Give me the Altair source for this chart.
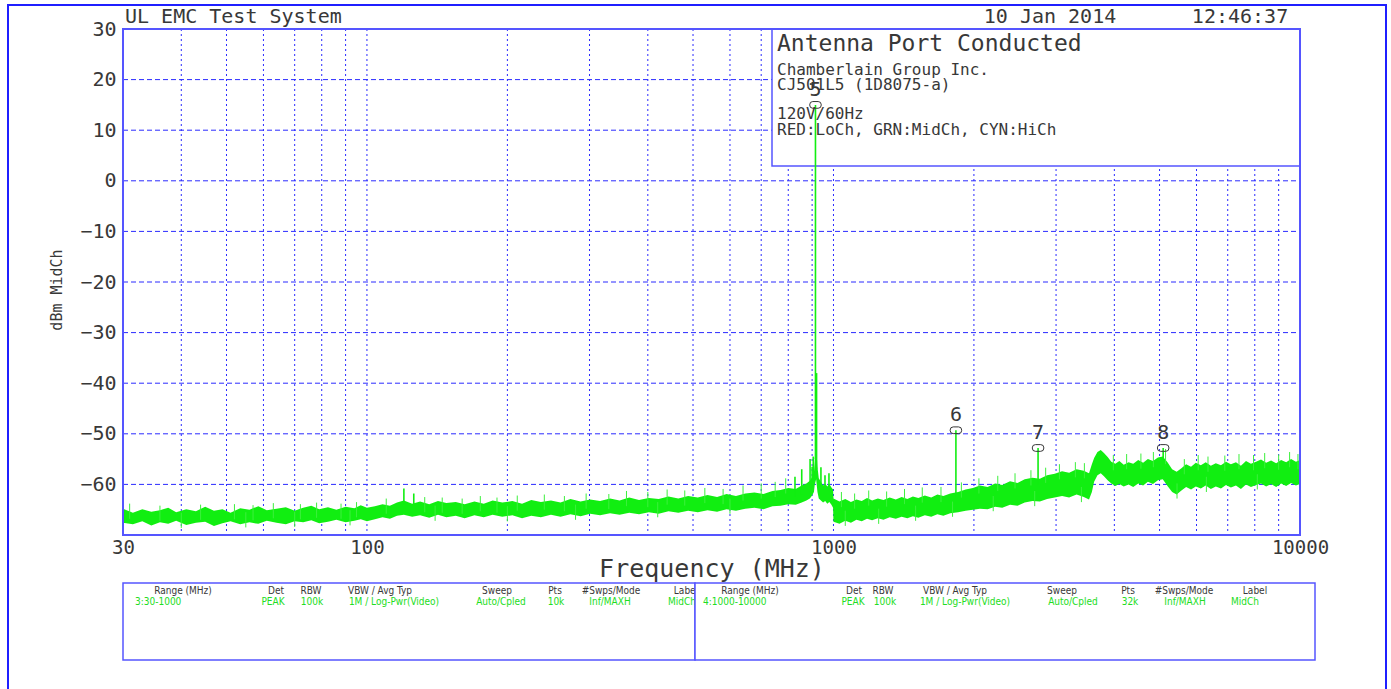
import altair as alt
import pandas as pd

# ---------------------------------------------------------------------------
# Peak-hold trace (MidCh): frequency in MHz with the upper and lower edge of
# the noise band in dBm, range 3 (30-1000 MHz) followed by range 4 (1-10 GHz)
# ---------------------------------------------------------------------------
FREQ = [
    30, 31.5, 33, 34.5, 36, 37.5, 39, 41, 43, 45, 47, 49, 51, 53.5, 56,
    58.5, 61, 64, 67, 70, 73, 76, 79, 82.5, 86, 90, 94, 97, 100,
    104, 108, 112, 116, 120, 125, 130, 136, 142, 148, 155, 162, 170, 178, 186,
    195, 205, 215, 225, 236, 248, 260, 273, 287, 301, 316, 332, 348, 365, 383,
    402, 422, 443, 465, 488, 512, 537, 563, 590, 618, 647, 677, 708, 740, 770,
    800, 830, 855, 875, 890, 900, 908,
    912, 918, 924, 930, 940, 950, 960, 970, 980, 990, 998,
    1000, 1030, 1060, 1090, 1120, 1150, 1180, 1210, 1245, 1280, 1320, 1360, 1400,
    1440, 1480, 1520, 1570, 1620, 1670, 1720, 1780, 1850, 1920, 1990, 2060,
    2140, 2220, 2300, 2390, 2480, 2570, 2670, 2770, 2870, 2980, 3090, 3200,
    3320, 3440, 3530, 3580, 3620, 3680, 3740, 3800, 3870, 3940, 4020, 4100,
    4190, 4290, 4390, 4500, 4610, 4720, 4840, 4960, 5080, 5200, 5320, 5440,
    5570, 5700, 5840, 5980, 6130, 6280, 6440, 6600, 6770, 6940, 7110, 7290,
    7470, 7660, 7850, 8050, 8250, 8460, 8670, 8890, 9110, 9340, 9570, 9800, 10000,
]
UPPER = [
    -64.8, -65.6, -64.9, -65.4, -65.1, -64.6, -65.5, -64.9, -65.3, -64.4,
    -65.2, -64.9, -65.6, -64.7, -65.0, -64.3, -65.1, -64.8, -64.5, -65.2,
    -64.6, -64.2, -64.9, -64.5, -65.0, -64.4, -64.7, -64.1, -64.6,
    -64.3, -63.9, -64.2, -63.6, -63.2, -63.8, -63.4, -63.9, -63.3, -63.7,
    -63.5, -63.9, -63.4, -63.8, -63.2, -63.6, -63.3, -63.8, -63.1, -63.5,
    -63.2, -63.6, -62.9, -63.4, -63.0, -63.3, -62.8, -63.2, -62.6, -63.1,
    -62.7, -62.9, -62.4, -62.8, -62.3, -62.6, -62.1, -62.5, -61.9, -62.3,
    -61.8, -61.6, -61.9, -61.3, -61.1, -60.7, -60.9, -60.2, -59.8, -59.3,
    -58.6, -57.8,
    -55.0, -52.0, -56.5, -58.8, -59.5, -60.2, -59.8, -60.4, -59.9, -60.6, -61.0,
    -62.8, -63.4, -62.9, -63.5, -63.0, -63.3, -62.7, -63.2, -62.8, -63.1,
    -62.6, -63.0, -62.5, -62.9, -62.4, -62.7, -62.2, -62.6, -62.0, -62.3,
    -61.8, -61.5, -61.0, -60.7, -60.2, -60.5, -59.8, -60.1, -59.4, -59.7,
    -59.0, -58.7, -58.9, -58.2, -57.9, -57.4, -57.7, -57.0, -57.3, -57.8,
    -56.0, -54.8, -53.6, -53.2, -53.8, -54.6, -55.5, -55.9, -55.4, -56.1,
    -55.6, -55.9, -55.2, -55.7, -55.0, -55.4, -54.7, -54.5, -55.6, -57.0,
    -57.5, -56.8, -56.0, -56.5, -55.7, -56.2, -55.6, -56.3, -55.8, -56.2,
    -55.5, -56.0, -55.6, -56.3, -55.4, -55.9, -55.5, -55.1, -55.7, -55.3,
    -55.8, -55.2, -55.6, -55.0, -55.5, -55.2,
]
LOWER = [
    -67.6, -67.9, -67.3, -68.1, -67.5, -67.8, -67.2, -68.0, -67.6, -67.4,
    -68.2, -67.7, -67.3, -67.9, -67.5, -67.8, -67.2, -67.6, -67.9, -67.3,
    -67.5, -67.1, -67.7, -67.4, -67.0, -67.5, -67.2, -66.9, -67.3,
    -66.9, -66.5, -66.8, -66.2, -66.0, -66.4, -66.1, -66.6, -66.0, -66.5,
    -66.2, -66.7, -66.1, -66.5, -66.0, -66.4, -66.1, -66.7, -66.2, -66.5,
    -66.0, -66.4, -65.9, -66.3, -65.8, -66.1, -65.7, -66.0, -65.6, -65.9,
    -65.5, -65.8, -65.3, -65.6, -65.2, -65.5, -65.1, -65.4, -64.9, -65.2,
    -64.8, -64.6, -64.9, -64.3, -64.2, -63.9, -64.0, -63.6, -63.2, -62.8,
    -62.2, -61.5,
    -60.0, -59.0, -61.5, -62.8, -63.2, -63.6, -63.3, -63.8, -63.5, -64.0, -64.6,
    -67.4, -67.8, -67.2, -67.6, -67.0, -67.3, -66.8, -67.1, -66.7, -67.0,
    -66.5, -66.8, -66.4, -66.7, -66.3, -66.6, -66.1, -66.4, -65.9, -66.2,
    -65.7, -65.5, -65.2, -65.0, -64.8, -64.9, -64.4, -64.6, -64.0, -64.2,
    -63.6, -63.3, -63.4, -62.9, -62.6, -62.3, -62.6, -62.0, -62.5, -63.0,
    -61.5, -59.5, -58.2, -57.8, -58.4, -59.2, -59.8, -60.3, -59.9, -60.4,
    -60.0, -60.5, -59.8, -60.2, -59.5, -59.9, -59.2, -59.0, -60.3, -61.5,
    -62.0, -61.2, -60.5, -61.0, -60.4, -60.8, -60.2, -60.9, -60.4, -60.8,
    -60.1, -60.6, -60.2, -60.9, -60.0, -60.5, -60.1, -59.8, -60.4, -59.9,
    -60.5, -59.8, -60.3, -59.7, -60.2, -59.9,
]

# Short noise peaks poking above the band (MHz, dBm)
FRINGE_UP_FREQ = [31, 36, 44, 52, 57, 63, 72, 78, 88, 95,
                  110, 133, 145, 160, 175, 190, 210, 240, 265, 295, 330, 360,
                  400, 440, 480, 530, 580, 640, 700, 750, 790,
                  1040, 1110, 1190, 1300, 1420, 1550, 1700, 1880, 2050, 2250,
                  2450, 2650, 2850, 3050, 3300, 3450, 3980, 4250, 4560, 4850,
                  5150, 5650, 6050, 6350, 6900, 7400, 7950, 8400, 9000, 9500, 9900]
FRINGE_UP_LEVEL = [-63.8, -64.2, -64.0, -63.9, -64.1, -63.7, -63.9, -63.6, -63.8, -63.5,
                   -62.8, -62.5, -62.6, -62.8, -62.3, -62.6, -62.2, -62.0, -62.3, -61.8, -61.9, -61.3,
                   -61.5, -61.0, -61.2, -60.7, -60.9, -60.2, -59.8, -59.5, -58.8,
                   -61.5, -61.8, -61.2, -61.4, -60.9, -60.6, -60.5, -59.6, -58.8, -58.3,
                   -57.8, -57.2, -56.7, -56.0, -55.6, -55.8, -54.2, -54.0, -53.9, -53.6,
                   -53.0, -55.0, -54.2, -54.5, -54.3, -54.0, -54.2, -53.8, -54.1, -53.6, -54.0]
# ... and dips below it
FRINGE_DN_FREQ = [40, 55, 70, 92, 140, 200, 280, 420, 600,
                  1060, 1250, 1500, 1800, 2200, 2700, 3400, 5450, 6300, 8100]
FRINGE_DN_LEVEL = [-68.6, -68.5, -68.4, -68.1, -67.2, -67.3, -67.0, -66.5, -65.8,
                   -68.2, -67.8, -67.2, -66.4, -65.3, -64.3, -63.5, -62.8, -61.5, -61.0]
FRINGE_LEN = 3.0  # dB drawn back into the band

# Narrow emissions standing out of the noise band (MHz, foot dBm, top dBm)
SPIKE_FREQ = [120, 126, 827, 855, 891, 900, 905, 915, 920, 940, 959, 978, 1830, 2745, 5090]
SPIKE_BASE = [-64.0, -64.2, -62.5, -62.0, -60.5, -59.5, -58.5, -55.0, -57.0, -60.0, -60.5, -61.0, -62.5, -60.0, -56.0]
SPIKE_TOP = [-60.8, -61.8, -58.5, -57.0, -55.0, -56.5, -54.5, 15.0, -38.0, -56.6, -58.2, -57.8, -49.3, -52.8, -52.8]

# Numbered markers
MARKER_ID = ["5", "6", "7", "8"]
MARKER_FREQ = [915, 1830, 2745, 5090]
MARKER_LEVEL = [15.0, -49.3, -52.8, -52.8]

# Axes
X_LABELS = [30, 100, 1000, 10000]
X_GRID = [40, 50, 60, 70, 80, 90, 100, 200, 300, 400, 500, 600, 700, 800, 900,
          1000, 2000, 3000, 4000, 5000, 6000, 7000, 8000, 9000]
Y_LABELS = [-60, -50, -40, -30, -20, -10, 0, 10, 20, 30]
Y_GRID = [-60, -50, -40, -30, -20, -10, 0, 10, 20]

# Texts
TITLE = "UL EMC Test System"
DATE = "10 Jan 2014"
TIME = "12:46:37"
INFO_LINES = ["Antenna Port Conducted", "Chamberlain Group Inc.", "CJ501L5 (1D8075-a)",
              "120V/60Hz", "RED:LoCh, GRN:MidCh, CYN:HiCh"]
X_TITLE = "Frequency (MHz)"
Y_TITLE = "dBm MidCh"

TABLE_HEAD = ["Range (MHz)", "Det", "RBW", "VBW / Avg Typ", "Sweep", "Pts", "#Swps/Mode", "Label"]
RANGE3_ROW = ["3:30-1000", "PEAK", "100k", "1M / Log-Pwr(Video)", "Auto/Cpled", "10k", "Inf/MAXH", "MidCh"]
RANGE4_ROW = ["4:1000-10000", "PEAK", "100k", "1M / Log-Pwr(Video)", "Auto/Cpled", "32k", "Inf/MAXH", "MidCh"]

# ---------------------------------------------------------------------------
# Layout (pixels, relative to the plot area's top-left corner)
# ---------------------------------------------------------------------------
W, H = 1177, 506
PAD = {"left": 123, "top": 29, "right": 91, "bottom": 154}

HEAD_X3 = [60, 153, 188, 257, 374, 432, 488, 563]
ROW_X3 = [12, 150, 189, 271, 378, 433, 487, 559]
HEAD_X4 = [627, 731, 760, 832, 939, 1005, 1061, 1132]
ROW_X4 = [580, 730, 762, 842, 950, 1007, 1062, 1122]

MONO = "DejaVu Sans Mono"
NARROW = "Liberation Sans Narrow, DejaVu Sans Condensed, sans-serif"
INK = "#383838"
GREEN = "#11ee11"
FRINGE = "#3cf03c"
TABLE_GREEN = "#22dd22"
FRAME = "#5555ff"
GRID = "#2b2bff"
BORDER = "#1f1fff"

ONE = pd.DataFrame({"k": [0]})

xs = alt.Scale(type="log", domain=[30, 10000], nice=False)
ys = alt.Scale(domain=[-70, 30], nice=False, zero=False)
XAX = alt.Axis(values=X_LABELS, format="d", title=None, ticks=False, domain=False, grid=False,
               labelFont=MONO, labelFontSize=19, labelColor=INK, labelPadding=3,
               labelFlush=False, labelOverlap=False)
YAX = alt.Axis(values=Y_LABELS, format="d", title=None, ticks=False, domain=False, grid=False,
               labelFont=MONO, labelFontSize=20, labelColor=INK, labelPadding=7)


def text_at(txt, x, y, size, font=MONO, color=INK, align="left", angle=0, baseline="alphabetic"):
    return alt.Chart(ONE).mark_text(
        text=txt, font=font, fontSize=size, color=color, align=align,
        baseline=baseline, angle=angle,
    ).encode(x=alt.value(x), y=alt.value(y))


def box(x0, x1, y0, y1, stroke, width, fill=None):
    if fill is None:
        m = alt.Chart(ONE).mark_rect(filled=False, stroke=stroke, strokeWidth=width)
    else:
        m = alt.Chart(ONE).mark_rect(fill=fill, stroke=stroke, strokeWidth=width)
    return m.encode(x=alt.value(x0), x2=alt.value(x1), y=alt.value(y0), y2=alt.value(y1))


trace = pd.DataFrame({"f": FREQ, "hi": UPPER, "lo": LOWER})
spikes = pd.DataFrame({"f": SPIKE_FREQ, "base": SPIKE_BASE, "top": SPIKE_TOP})
markers = pd.DataFrame({"id": MARKER_ID, "f": MARKER_FREQ, "lvl": MARKER_LEVEL})
fringe = pd.DataFrame({
    "f": FRINGE_UP_FREQ + FRINGE_DN_FREQ,
    "a": FRINGE_UP_LEVEL + FRINGE_DN_LEVEL,
    "b": [v - FRINGE_LEN for v in FRINGE_UP_LEVEL] + [v + FRINGE_LEN for v in FRINGE_DN_LEVEL],
})

grid_v = alt.Chart(pd.DataFrame({"f": X_GRID})).mark_rule(
    color=GRID, strokeDash=[2, 3], strokeWidth=1
).encode(x=alt.X("f:Q", scale=xs, axis=XAX), y=alt.value(0), y2=alt.value(H))

grid_h = alt.Chart(pd.DataFrame({"db": Y_GRID})).mark_rule(
    color=GRID, strokeDash=[5, 3], strokeWidth=1
).encode(y=alt.Y("db:Q", scale=ys, axis=YAX), x=alt.value(0), x2=alt.value(W))

band = alt.Chart(trace).mark_area(color=GREEN, opacity=1, interpolate="linear").encode(
    x=alt.X("f:Q", scale=xs, axis=XAX),
    y=alt.Y("hi:Q", scale=ys, axis=YAX),
    y2="lo:Q",
)

fringe_rules = alt.Chart(fringe).mark_rule(color=FRINGE, strokeWidth=1).encode(
    x=alt.X("f:Q", scale=xs, axis=XAX),
    y=alt.Y("a:Q", scale=ys, axis=YAX),
    y2="b:Q",
)

spike_rules = alt.Chart(spikes).mark_rule(color=GREEN, strokeWidth=1.6).encode(
    x=alt.X("f:Q", scale=xs, axis=XAX),
    y=alt.Y("top:Q", scale=ys, axis=YAX),
    y2="base:Q",
)

MARKER_SHAPE = ("M-0.6,-0.75 L0.6,-0.75 Q1.3,-0.75 1.3,0 Q1.3,0.75 0.6,0.75 "
                "L-0.6,0.75 Q-1.3,0.75 -1.3,0 Q-1.3,-0.75 -0.6,-0.75 Z")
marker_sym = alt.Chart(markers).mark_point(
    shape=MARKER_SHAPE, filled=False, stroke=INK, strokeWidth=1, size=80, opacity=1
).encode(x=alt.X("f:Q", scale=xs, axis=XAX), y=alt.Y("lvl:Q", scale=ys, axis=YAX))

marker_txt = alt.Chart(markers).mark_text(
    font=MONO, fontSize=20, color=INK, dy=-15, baseline="middle"
).encode(x=alt.X("f:Q", scale=xs, axis=XAX), y=alt.Y("lvl:Q", scale=ys, axis=YAX), text="id:N")

layers = [
    box(-115, 1263, -24, 680, BORDER, 2),
    grid_v,
    grid_h,
    box(649, W, 0, 137, FRAME, 1.5, fill="white"),
    band,
    fringe_rules,
    spike_rules,
    marker_sym,
    marker_txt,
    box(0, W, 0, H, FRAME, 2),
    # header line above the plot
    text_at(TITLE, 2, -6, 20),
    text_at(DATE, 927, -6, 20, align="center"),
    text_at(TIME, 1117, -6, 20, align="center"),
    # test description box
    text_at(INFO_LINES[0], 654, 22, 23),
    text_at(INFO_LINES[1], 654, 46, 16),
    text_at(INFO_LINES[2], 654, 61, 16),
    text_at(INFO_LINES[3], 654, 90, 16),
    text_at(INFO_LINES[4], 654, 106, 16),
    # axis titles
    text_at(X_TITLE, 589, 548, 25, align="center"),
    text_at(Y_TITLE, -66, 261, 15, align="center", angle=270, baseline="middle"),
    # settings table, range 3
    box(0, 572, 554, 631, FRAME, 1.5),
]
for i, h in enumerate(TABLE_HEAD):
    layers.append(text_at(h, HEAD_X3[i], 565, 10, font=NARROW, align="center"))
for i, v in enumerate(RANGE3_ROW):
    layers.append(text_at(v, ROW_X3[i], 576, 10, font=NARROW, color=TABLE_GREEN,
                          align="left" if i == 0 else "center"))
# settings table, range 4
layers.append(box(572, 1192, 554, 631, FRAME, 1.5, fill="white"))
for i, h in enumerate(TABLE_HEAD):
    layers.append(text_at(h, HEAD_X4[i], 565, 10, font=NARROW, align="center"))
for i, v in enumerate(RANGE4_ROW):
    layers.append(text_at(v, ROW_X4[i], 576, 10, font=NARROW, color=TABLE_GREEN,
                          align="left" if i == 0 else "center"))

chart = alt.layer(*layers).properties(
    width=W,
    height=H,
    padding=PAD,
    autosize=alt.AutoSizeParams(type="none"),
    background="white",
).configure_view(stroke=None)

chart.save("out.html", embed_options={"renderer": "svg", "actions": False})
